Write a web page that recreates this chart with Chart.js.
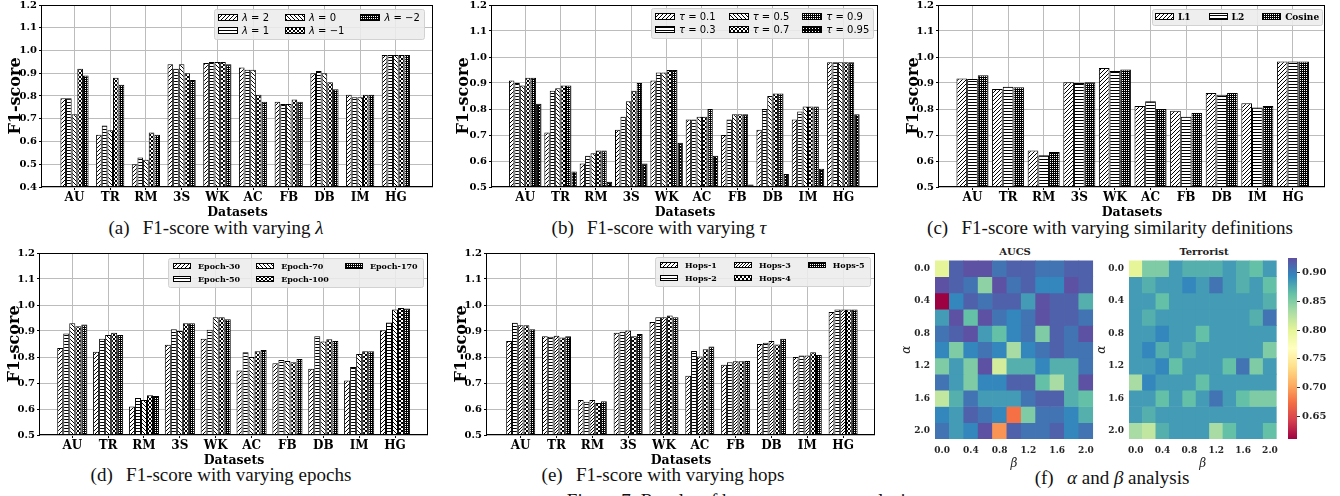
<!DOCTYPE html>
<html>
<head>
<meta charset="utf-8">
<script src="https://cdn.jsdelivr.net/npm/chart.js@4.4.1/dist/chart.umd.min.js"></script>
<style>
  body { margin: 0; width: 1340px; height: 496px; overflow: hidden; background: #fff; position: relative; }
  canvas { position: absolute; }
  .cap { position: absolute; white-space: nowrap; font-family: "Liberation Serif", serif; font-size: 19px; color: #111; transform: translate(-50%, -50%); }
  .ttl { position: absolute; white-space: nowrap; font-family: "DejaVu Serif", serif; font-weight: bold; font-size: 10px; color: #222; transform: translate(-50%, -50%); }
</style>
</head>
<body>
<div class="cap" style="left:216px;top:228px">(a)&ensp;&thinsp;F1-score with varying <i>λ</i></div>
<div class="cap" style="left:659px;top:228px">(b)&ensp;&thinsp;F1-score with varying <i>τ</i></div>
<div class="cap" style="left:1110px;top:228px">(c)&ensp;&thinsp;F1-score with varying similarity definitions</div>
<div class="cap" style="left:221px;top:475px">(d)&ensp;&thinsp;F1-score with varying epochs</div>
<div class="cap" style="left:663px;top:475px">(e)&ensp;&thinsp;F1-score with varying hops</div>
<div class="cap" style="left:1112px;top:478px">(f)&ensp;&thinsp;<i>α</i> and <i>β</i> analysis</div>
<div class="ttl" style="left:1015px;top:251px">AUCS</div>
<div class="ttl" style="left:1204px;top:251px">Terrorist</div>
<div class="cap" style="left:740px;top:501px;font-size:19px">Figure 7: Results of hyper-parameter analysis</div>
<script>
const datasetNames = ['AU', 'TR', 'RM', '3S', 'WK', 'AC', 'FB', 'DB', 'IM', 'HG'];
const f1TicksA = [0.4, 0.5, 0.6, 0.7, 0.8, 0.9, 1.0, 1.1, 1.2];
const f1Ticks = [0.5, 0.6, 0.7, 0.8, 0.9, 1.0, 1.1, 1.2];

// (a) lambda
const lambdaLabels = ['λ = 2', 'λ = 1', 'λ = 0', 'λ = −1', 'λ = −2'];
const lambda2 = [0.79, 0.63, 0.50, 0.94, 0.945, 0.925, 0.775, 0.90, 0.805, 0.98];
const lambda1 = [0.79, 0.67, 0.53, 0.92, 0.95, 0.915, 0.765, 0.91, 0.795, 0.98];
const lambda0 = [0.72, 0.65, 0.52, 0.94, 0.95, 0.915, 0.765, 0.90, 0.795, 0.98];
const lambdaM1 = [0.92, 0.88, 0.64, 0.90, 0.95, 0.805, 0.785, 0.86, 0.805, 0.98];
const lambdaM2 = [0.89, 0.85, 0.63, 0.87, 0.94, 0.775, 0.775, 0.83, 0.805, 0.98];

// (b) tau
const tauLabels = ['τ = 0.1', 'τ = 0.3', 'τ = 0.5', 'τ = 0.7', 'τ = 0.9', 'τ = 0.95'];
const tau01 = [0.91, 0.71, 0.59, 0.72, 0.91, 0.76, 0.70, 0.72, 0.76, 0.98];
const tau03 = [0.90, 0.87, 0.62, 0.77, 0.94, 0.76, 0.76, 0.80, 0.79, 0.98];
const tau05 = [0.89, 0.88, 0.63, 0.83, 0.94, 0.77, 0.78, 0.85, 0.81, 0.98];
const tau07 = [0.92, 0.89, 0.64, 0.87, 0.95, 0.77, 0.78, 0.86, 0.81, 0.98];
const tau09 = [0.92, 0.89, 0.64, 0.90, 0.95, 0.80, 0.78, 0.86, 0.81, 0.98];
const tau095 = [0.82, 0.56, 0.52, 0.59, 0.67, 0.62, 0.51, 0.55, 0.57, 0.78];

// (c) similarity
const simLabels = ['L1', 'L2', 'Cosine'];
const simL1 = [0.917, 0.877, 0.64, 0.903, 0.958, 0.812, 0.793, 0.862, 0.822, 0.983];
const simL2 = [0.915, 0.886, 0.622, 0.90, 0.946, 0.83, 0.77, 0.855, 0.806, 0.983];
const simCos = [0.93, 0.884, 0.635, 0.903, 0.952, 0.80, 0.785, 0.862, 0.812, 0.983];

// (d) epochs
const epochLabels = ['Epoch-30', 'Epoch-50', 'Epoch-70', 'Epoch-100', 'Epoch-170'];
const epoch30 = [0.835, 0.82, 0.61, 0.847, 0.87, 0.748, 0.776, 0.755, 0.71, 0.903];
const epoch50 = [0.89, 0.87, 0.642, 0.907, 0.905, 0.818, 0.788, 0.88, 0.762, 0.933];
const epoch70 = [0.93, 0.885, 0.635, 0.90, 0.953, 0.80, 0.785, 0.86, 0.812, 0.983];
const epoch100 = [0.918, 0.893, 0.653, 0.93, 0.953, 0.822, 0.78, 0.868, 0.822, 0.988];
const epoch170 = [0.925, 0.885, 0.65, 0.93, 0.945, 0.827, 0.792, 0.862, 0.822, 0.987];

// (e) hops
const hopLabels = ['Hops-1', 'Hops-2', 'Hops-3', 'Hops-4', 'Hops-5'];
const hops1 = [0.862, 0.88, 0.635, 0.893, 0.935, 0.728, 0.77, 0.85, 0.80, 0.973];
const hops2 = [0.932, 0.878, 0.628, 0.897, 0.953, 0.823, 0.78, 0.855, 0.806, 0.983];
const hops3 = [0.922, 0.882, 0.635, 0.902, 0.953, 0.802, 0.784, 0.862, 0.806, 0.983];
const hops4 = [0.922, 0.875, 0.623, 0.88, 0.96, 0.83, 0.784, 0.848, 0.818, 0.983];
const hops5 = [0.907, 0.88, 0.63, 0.888, 0.953, 0.84, 0.785, 0.87, 0.808, 0.983];

// (f) heatmaps, rows = alpha, cols = beta
const alphaLabels = ['0.0', '0.2', '0.4', '0.6', '0.8', '1.0', '1.2', '1.4', '1.6', '1.8', '2.0'];
const betaLabels = ['0.0', '0.2', '0.4', '0.6', '0.8', '1.0', '1.2', '1.4', '1.6', '1.8', '2.0'];
const aucsGrid = [
  [0.80, 0.916, 0.925, 0.925, 0.906, 0.916, 0.916, 0.906, 0.906, 0.916, 0.916],
  [0.925, 0.916, 0.906, 0.845, 0.925, 0.906, 0.916, 0.895, 0.895, 0.925, 0.916],
  [0.61, 0.895, 0.916, 0.906, 0.916, 0.916, 0.884, 0.925, 0.916, 0.916, 0.873],
  [0.884, 0.925, 0.864, 0.925, 0.906, 0.895, 0.906, 0.925, 0.916, 0.916, 0.906],
  [0.906, 0.916, 0.925, 0.884, 0.864, 0.895, 0.906, 0.852, 0.916, 0.906, 0.925],
  [0.895, 0.852, 0.895, 0.906, 0.895, 0.832, 0.895, 0.906, 0.916, 0.906, 0.906],
  [0.852, 0.884, 0.852, 0.925, 0.81, 0.873, 0.873, 0.895, 0.873, 0.873, 0.906],
  [0.906, 0.884, 0.852, 0.895, 0.895, 0.916, 0.916, 0.864, 0.832, 0.873, 0.925],
  [0.82, 0.873, 0.906, 0.884, 0.884, 0.884, 0.906, 0.916, 0.916, 0.873, 0.864],
  [0.895, 0.884, 0.916, 0.906, 0.895, 0.675, 0.852, 0.906, 0.906, 0.895, 0.873],
  [0.906, 0.884, 0.895, 0.925, 0.692, 0.916, 0.906, 0.906, 0.916, 0.895, 0.906]
];
const terroristGrid = [
  [0.80, 0.852, 0.852, 0.884, 0.873, 0.873, 0.873, 0.884, 0.873, 0.864, 0.884],
  [0.884, 0.873, 0.884, 0.884, 0.895, 0.884, 0.906, 0.884, 0.873, 0.884, 0.864],
  [0.884, 0.884, 0.864, 0.884, 0.884, 0.884, 0.884, 0.884, 0.884, 0.884, 0.873],
  [0.884, 0.873, 0.884, 0.884, 0.884, 0.884, 0.884, 0.884, 0.884, 0.873, 0.906],
  [0.884, 0.884, 0.895, 0.884, 0.884, 0.864, 0.884, 0.884, 0.884, 0.884, 0.884],
  [0.884, 0.895, 0.873, 0.884, 0.873, 0.884, 0.884, 0.884, 0.884, 0.884, 0.852],
  [0.884, 0.884, 0.895, 0.864, 0.884, 0.884, 0.884, 0.864, 0.906, 0.852, 0.884],
  [0.832, 0.895, 0.884, 0.884, 0.884, 0.864, 0.884, 0.884, 0.884, 0.884, 0.884],
  [0.884, 0.884, 0.864, 0.884, 0.864, 0.884, 0.906, 0.884, 0.864, 0.852, 0.852],
  [0.884, 0.873, 0.884, 0.884, 0.884, 0.884, 0.884, 0.884, 0.884, 0.884, 0.884],
  [0.832, 0.82, 0.873, 0.884, 0.884, 0.884, 0.832, 0.864, 0.884, 0.884, 0.864]
];
const cbMin = 0.61;
const cbMax = 0.926;
const cbTicks = [0.65, 0.70, 0.75, 0.80, 0.85, 0.90];

Chart.defaults.font.family = 'DejaVu Serif';
const gridColor = '#bcbcbc';
const spectralStops = ['#9e0142', '#d53e4f', '#f46d43', '#fdae61', '#fee08b', '#ffffbf',
  '#e6f598', '#abdda4', '#66c2a5', '#3288bd', '#5e4fa2'];

function hexRgb(h) {
  return [1, 3, 5].map(i => parseInt(h.slice(i, i + 2), 16));
}

function spectral(v) {
  const t = Math.min(1, Math.max(0, (v - cbMin) / (cbMax - cbMin))) * 10;
  const i = Math.min(9, Math.floor(t));
  const f = t - i;
  const a = hexRgb(spectralStops[i]), b = hexRgb(spectralStops[i + 1]);
  const c = a.map((x, k) => Math.round(x + (b[k] - x) * f));
  return `rgb(${c[0]},${c[1]},${c[2]})`;
}

// hatch fills, drawn pixel by pixel
function hatch(kind) {
  const n = { diag: 4, back: 4, horiz: 3, cross: 4, dots: 2, dark: 3, fine: 3 }[kind];
  const c = document.createElement('canvas');
  c.width = c.height = n;
  const g = c.getContext('2d');
  const img = g.createImageData(n, n);
  for (let y = 0; y < n; y++) {
    for (let x = 0; x < n; x++) {
      let ink = false;
      if (kind === 'diag') ink = (x + y) % n === n - 1;
      if (kind === 'back') ink = x === y;
      if (kind === 'horiz') ink = y === 0;
      if (kind === 'cross') ink = (x + y) % n === n - 1 || x === y;
      if (kind === 'dots') ink = !(x === 1 && y === 1);
      if (kind === 'dark') ink = !(x === 1 && y === 1);
      if (kind === 'fine') ink = (x + y) % n === 0;
      const v = ink ? 0 : 255;
      img.data.set([v, v, v, 255], (y * n + x) * 4);
    }
  }
  g.putImageData(img, 0, 0);
  return g.createPattern(c, 'repeat');
}

function labelWidth(ctx, text, o) {
  if (!o.greek) {
    ctx.font = o.font;
    return ctx.measureText(text).width;
  }
  ctx.font = 'italic ' + o.font;
  const w = ctx.measureText(text[0]).width;
  ctx.font = o.font;
  return w + ctx.measureText(text.slice(1)).width;
}

function drawLabel(ctx, text, x, y, o) {
  if (!o.greek) {
    ctx.font = o.font;
    ctx.fillText(text, x, y);
    return;
  }
  ctx.font = 'italic ' + o.font;
  ctx.fillText(text[0], x, y);
  const w = ctx.measureText(text[0]).width;
  ctx.font = o.font;
  ctx.fillText(text.slice(1), x + w, y);
}

// legend inside the axes (3 columns, filled column by column) + black frame
const hatchLegend = {
  id: 'hatchLegend',
  afterDraw(chart, args, o) {
    const ctx = chart.ctx;
    const a = chart.chartArea;
    const sets = chart.data.datasets;
    const nrow = Math.ceil(sets.length / 3);
    ctx.save();
    const cols = [];
    for (let c = 0; c * nrow < sets.length; c++) {
      const items = sets.slice(c * nrow, c * nrow + nrow);
      const tw = Math.max(...items.map(d => labelWidth(ctx, d.label, o)));
      cols.push({ items, w: o.handleW + o.textPad + tw });
    }
    const w = Math.round(o.padX * 2 + cols.reduce((s, c) => s + c.w, 0) + o.colGap * (cols.length - 1));
    const h = Math.round(o.padY * 2 + nrow * o.rowH);
    const x0 = Math.round(a.right - o.gapX - w);
    const y0 = Math.round(a.top + o.gapY);
    ctx.beginPath();
    ctx.roundRect(x0 + 0.5, y0 + 0.5, w, h, 2);
    ctx.fillStyle = 'rgba(236,236,236,0.88)';
    ctx.fill();
    ctx.strokeStyle = '#d2d2d2';
    ctx.lineWidth = 1;
    ctx.stroke();
    let x = x0 + o.padX;
    ctx.textBaseline = 'middle';
    cols.forEach(col => {
      col.items.forEach((d, r) => {
        const cy = Math.round(y0 + o.padY + o.rowH * (r + 0.5));
        const hy = cy - Math.round(o.handleH / 2);
        const hx = Math.round(x);
        ctx.fillStyle = d.backgroundColor;
        ctx.fillRect(hx, hy, o.handleW, o.handleH);
        ctx.strokeStyle = '#000';
        ctx.strokeRect(hx + 0.5, hy + 0.5, o.handleW - 1, o.handleH - 1);
        ctx.fillStyle = '#000';
        drawLabel(ctx, d.label, x + o.handleW + o.textPad, cy + 0.5, o);
      });
      x += col.w + o.colGap;
    });
    ctx.strokeStyle = '#000';
    ctx.lineWidth = 1;
    ctx.strokeRect(Math.round(a.left) - 0.5, Math.round(a.top) + 0.5,
      Math.round(a.right) - Math.round(a.left), Math.round(a.bottom) - Math.round(a.top) - 1);
    ctx.restore();
  }
};

function addCanvas(left, top, w, h) {
  const c = document.createElement('canvas');
  c.width = w;
  c.height = h;
  c.style.left = left + 'px';
  c.style.top = top + 'px';
  c.style.width = w + 'px';
  c.style.height = h + 'px';
  document.body.appendChild(c);
  return c;
}

function barPanel(p) {
  const [L, T, R, B] = p.area;
  const top = T - 8;
  const canvas = addCanvas(p.cx, top, R + 6 - p.cx, B + 40 - top);
  const yW = L - p.cx;
  return new Chart(canvas, {
    type: 'bar',
    data: {
      datasets: p.series.map((vals, k) => ({
        label: p.labels[k],
        data: vals.map((y, i) => ({ x: i, y })),
        backgroundColor: p.fills[k],
        borderColor: '#000',
        borderWidth: 1
      }))
    },
    options: {
      responsive: false,
      animation: false,
      events: [],
      layout: { padding: { top: 8, right: 6, left: 0, bottom: 0 } },
      datasets: { bar: { categoryPercentage: p.catPct, barPercentage: 1 } },
      plugins: { legend: { display: false }, tooltip: { enabled: false }, hatchLegend: p.legend },
      scales: {
        x: {
          type: 'linear', min: p.xRange[0], max: p.xRange[1], offset: false,
          afterBuildTicks: s => { s.ticks = datasetNames.map((_, i) => ({ value: i })); },
          afterFit: s => { s.height = 40; },
          grid: { color: gridColor, offset: false, tickColor: '#000', tickLength: 3 },
          border: { display: false },
          ticks: { callback: v => datasetNames[v], autoSkip: false, maxRotation: 0, padding: 1,
            color: '#000', font: { size: 12, weight: 'bold' } },
          title: { display: true, text: 'Datasets', color: '#000', font: { size: 12.5, weight: 'bold' },
            padding: { top: 0, bottom: 7 } }
        },
        y: {
          min: p.yTicks[0], max: p.yTicks[p.yTicks.length - 1],
          afterBuildTicks: s => { s.ticks = p.yTicks.map(v => ({ value: v })); },
          afterFit: s => { s.width = yW; },
          grid: { color: gridColor, tickColor: '#000', tickLength: 3 },
          border: { display: false },
          ticks: { callback: v => v.toFixed(1), padding: 2, color: '#000', font: { size: 10, weight: 'bold' } },
          title: { display: true, text: 'F1-score', color: '#000', font: { size: 16, weight: 'bold' },
            padding: { top: p.yTitleX - p.cx - 9.6, bottom: 0 } }
        }
      }
    },
    plugins: [hatchLegend]
  });
}

function heatPanel(grid, area, cx, yTitleX) {
  const [L, T, R, B] = area;
  const top = T - 8;
  const canvas = addCanvas(cx, top, R + 5 - cx, B + 36 - top);
  return new Chart(canvas, {
    type: 'bar',
    data: {
      labels: betaLabels,
      datasets: grid.map((row, r) => ({
        label: alphaLabels[r],
        data: row.map(() => 1),
        backgroundColor: row.map(spectral),
        borderWidth: 0
      }))
    },
    options: {
      responsive: false,
      animation: false,
      events: [],
      layout: { padding: { top: 8, right: 5, left: 0, bottom: 0 } },
      datasets: { bar: { categoryPercentage: 1, barPercentage: 1 } },
      plugins: { legend: { display: false }, tooltip: { enabled: false } },
      scales: {
        x: {
          stacked: true,
          afterFit: s => { s.height = 36; },
          grid: { display: false, drawTicks: false },
          border: { display: false },
          ticks: { callback: (v, i) => (i % 2 === 0 ? betaLabels[i] : ''), autoSkip: false, maxRotation: 0,
            padding: 6, color: '#262626', font: { size: 9, weight: 'bold' } },
          title: { display: true, text: 'β', color: '#262626', font: { size: 12, style: 'italic' },
            padding: { top: 0, bottom: 4 } }
        },
        y: {
          stacked: true, reverse: true, min: 0, max: alphaLabels.length,
          afterBuildTicks: s => { s.ticks = alphaLabels.map((_, i) => i).filter(i => i % 2 === 0).map(i => ({ value: i + 0.5 })); },
          afterFit: s => { s.width = L - cx; },
          grid: { display: false, drawTicks: false },
          border: { display: false },
          ticks: { callback: v => alphaLabels[v - 0.5], padding: 5, color: '#262626', font: { size: 9, weight: 'bold' } },
          title: { display: true, text: 'α', color: '#262626', font: { size: 12, style: 'italic' },
            padding: { top: yTitleX - cx - 7.2, bottom: 0 } }
        }
      }
    }
  });
}

function colorbar(area) {
  const [L, T, R, B] = area;
  const cx = L - 7, top = T - 8;
  const canvas = addCanvas(cx, top, 1340 - cx, B + 8 - top);
  return new Chart(canvas, {
    type: 'bar',
    data: {
      labels: ['scale'],
      datasets: [{
        data: [[cbMin, cbMax]],
        borderWidth: 0,
        backgroundColor: c => {
          const a = c.chart.chartArea;
          if (!a) return '#888';
          const g = c.chart.ctx.createLinearGradient(0, a.bottom, 0, a.top);
          spectralStops.forEach((col, i) => g.addColorStop(i / 10, col));
          return g;
        }
      }]
    },
    options: {
      responsive: false,
      animation: false,
      events: [],
      layout: { padding: { top: 8, right: 0, left: 7, bottom: 8 } },
      datasets: { bar: { categoryPercentage: 1, barPercentage: 1 } },
      plugins: { legend: { display: false }, tooltip: { enabled: false } },
      scales: {
        x: { display: false },
        y: {
          position: 'right', min: cbMin, max: cbMax,
          afterBuildTicks: s => { s.ticks = cbTicks.map(v => ({ value: v })); },
          afterFit: s => { s.width = 1340 - R; },
          grid: { drawOnChartArea: false, color: '#333', tickLength: 3 },
          border: { display: false },
          ticks: { callback: v => v.toFixed(2), padding: 2, color: '#262626', font: { size: 10, weight: 'bold' } }
        }
      }
    }
  });
}

const fDiag = hatch('diag'), fHoriz = hatch('horiz'), fBack = hatch('back'), fCross = hatch('cross');
const fDots = hatch('dots'), fDark = hatch('dark'), fFine = hatch('fine');

const greekLegend = { font: '10px "DejaVu Sans"', greek: true, handleW: 20, handleH: 7, textPad: 4,
  colGap: 16, padX: 4, padY: 2, rowH: 13, gapX: 9, gapY: 4 };
const smallLegend = { font: 'bold 8px "DejaVu Serif"', greek: false, handleW: 18, handleH: 6, textPad: 7,
  colGap: 16, padX: 5, padY: 2, rowH: 12.5, gapX: 5, gapY: 5 };

barPanel({
  area: [42, 5, 433, 187], cx: 0, yTitleX: 16, xRange: [-0.91, 10.04], catPct: 0.79, yTicks: f1TicksA,
  labels: lambdaLabels, series: [lambda2, lambda1, lambda0, lambdaM1, lambdaM2],
  fills: [fDiag, fHoriz, fBack, fCross, fDots], legend: greekLegend
});
barPanel({
  area: [492, 5, 878, 187], cx: 448, yTitleX: 464, xRange: [-0.94, 9.98], catPct: 0.92, yTicks: f1Ticks,
  labels: tauLabels, series: [tau01, tau03, tau05, tau07, tau09, tau095],
  fills: [fDiag, fHoriz, fBack, fCross, fDots, fDark], legend: { ...greekLegend, gapX: 5, gapY: 3, colGap: 13 }
});
barPanel({
  area: [939, 5, 1325, 187], cx: 897, yTitleX: 914, xRange: [-0.94, 9.9], catPct: 0.9, yTicks: f1Ticks,
  labels: simLabels, series: [simL1, simL2, simCos],
  fills: [fDiag, fHoriz, fDots],
  legend: { font: 'bold 9px "DejaVu Serif"', greek: false, handleW: 19, handleH: 7, textPad: 4,
    colGap: 18, padX: 3, padY: 2, rowH: 12, gapX: 3, gapY: 4 }
});
barPanel({
  area: [40, 253, 428, 435], cx: 0, yTitleX: 15, xRange: [-0.9, 9.92], catPct: 0.84, yTicks: f1Ticks,
  labels: epochLabels, series: [epoch30, epoch50, epoch70, epoch100, epoch170],
  fills: [fDiag, fHoriz, fBack, fCross, fDots], legend: smallLegend
});
barPanel({
  area: [487, 253, 875, 435], cx: 445, yTitleX: 462, xRange: [-0.94, 9.89], catPct: 0.81, yTicks: f1Ticks,
  labels: hopLabels, series: [hops1, hops2, hops3, hops4, hops5],
  fills: [fDiag, fHoriz, fFine, fCross, fDots], legend: { ...smallLegend, gapY: 4, colGap: 17 }
});

heatPanel(aucsGrid, [935, 258, 1095, 439], 897, 907);
heatPanel(terroristGrid, [1129, 258, 1279, 439], 1093, 1102);
colorbar([1288, 258, 1297, 439]);
</script>
</body>
</html>
